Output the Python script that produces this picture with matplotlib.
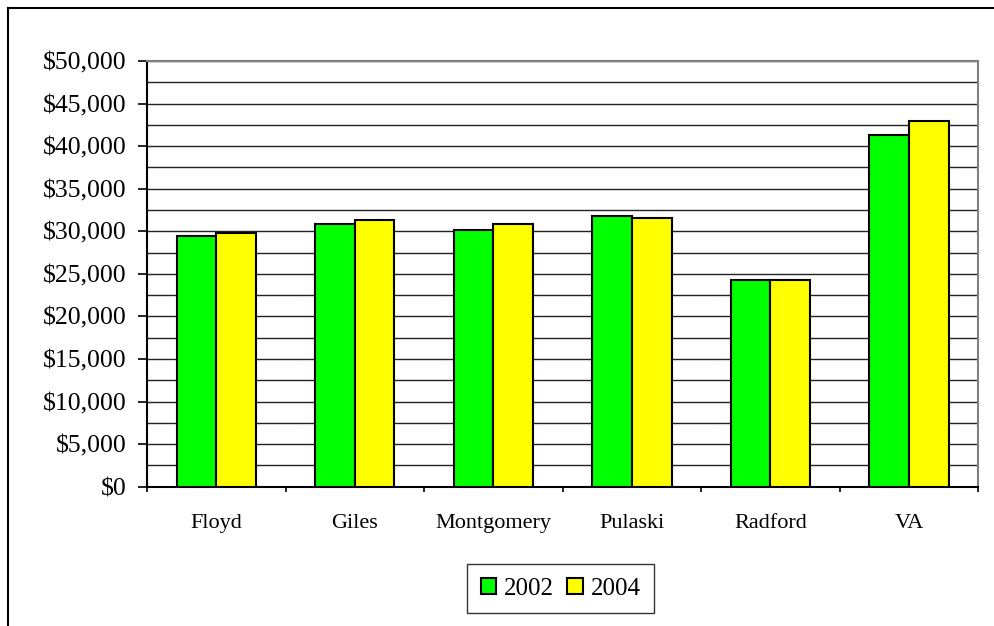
import matplotlib
matplotlib.use("Agg")
import matplotlib.pyplot as plt
import numpy as np
from matplotlib.lines import Line2D
from matplotlib.ticker import FuncFormatter, MultipleLocator

categories = ["Floyd", "Giles", "Montgomery", "Pulaski", "Radford", "VA"]
series_names = ["2002", "2004"]
values_2002 = [29400, 30850, 30100, 31800, 24300, 41250]
values_2004 = [29850, 31300, 30850, 31600, 24300, 42950]
colors = ["#00FF00", "#FFFF00"]
y_ticks = [0, 5000, 10000, 15000, 20000, 25000, 30000, 35000, 40000, 45000, 50000]

plt.rcParams["font.family"] = ["Liberation Serif", "DejaVu Serif"]

W, H = 995, 626
PX = 72 / 100  # points per pixel
fig = plt.figure(figsize=(W / 100, H / 100), dpi=100)
ax = fig.add_axes([147 / W, 1 - 486.7 / H, (978.3 - 147) / W, (486.7 - 61) / H])

x = np.arange(len(categories))
bw = 0.286
ax.bar(x - bw / 2, values_2002, bw, color=colors[0], edgecolor="black", linewidth=1.5, label=series_names[0], zorder=3)
ax.bar(x + bw / 2, values_2004, bw, color=colors[1], edgecolor="black", linewidth=1.5, label=series_names[1], zorder=3)

ax.set_xlim(-0.5, len(categories) - 0.5)
ax.set_ylim(0, 50000)
ax.set_yticks(y_ticks)
ax.yaxis.set_minor_locator(MultipleLocator(2500))
ax.yaxis.set_major_formatter(FuncFormatter(lambda v, p: "${:,.0f}".format(v)))
ax.grid(axis="y", which="both", color="#222222", linewidth=1.0, zorder=0)
ax.set_axisbelow(True)

ax.set_xticks(x)
ax.set_xticklabels(categories, fontsize=16)
ax.set_xticks(np.arange(-0.5, len(categories)), minor=True)
ax.tick_params(axis="x", which="major", length=0, pad=19 * PX + 6)
ax.tick_params(axis="x", which="minor", length=5 * PX, width=1.2, color="black")
ax.tick_params(axis="y", which="major", length=9 * PX, width=1.2, labelsize=18.5, pad=11 * PX)
ax.tick_params(axis="y", which="minor", length=0)

for s in ["left", "bottom"]:
    ax.spines[s].set_color("black")
    ax.spines[s].set_linewidth(1.5)
for s in ["top", "right"]:
    ax.spines[s].set_color("#808080")
    ax.spines[s].set_linewidth(1.5)

leg = fig.legend(loc="center", bbox_to_anchor=(560.5 / W, 1 - 588.7 / H), ncol=2,
                 fontsize=18, frameon=True, fancybox=False, edgecolor="black",
                 handlelength=0.62, handleheight=0.62, handletextpad=0.3,
                 columnspacing=0.55, borderpad=0.55, borderaxespad=0)
leg.get_frame().set_linewidth(1.0)
for h in leg.legend_handles:
    h.set_linewidth(1.5)

# outer chart frame (top and left visible)
fig.add_artist(Line2D([8 / W, 1.0], [1 - 8 / H, 1 - 8 / H], color="black", linewidth=1.5, transform=fig.transFigure))
fig.add_artist(Line2D([8 / W, 8 / W], [0, 1 - 8 / H], color="black", linewidth=1.5, transform=fig.transFigure))

fig.savefig("out.png", dpi=100)
